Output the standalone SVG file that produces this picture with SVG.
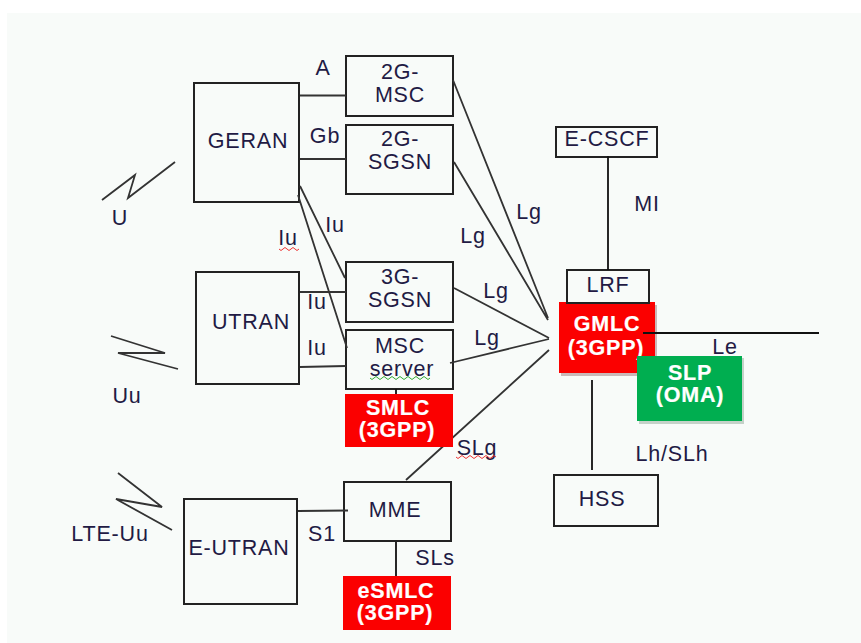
<svg xmlns="http://www.w3.org/2000/svg" width="861" height="643" viewBox="0 0 861 643">
<defs><style>
text{font-family:"Liberation Sans",Arial,sans-serif;font-size:21.500px;letter-spacing:.8px;fill:#221a44;text-anchor:middle}
.b{fill:#f8fbf9;stroke:#222;stroke-width:2}
.r{fill:#fb0000}
.g{fill:#00ae50}
.s{fill:#fff;font-weight:bold;stroke:#fff;stroke-width:.2}
.c{fill:none;stroke:#333;stroke-width:1.8}
.k{stroke:#111}
.sq{fill:none;stroke:#e33;stroke-width:1}
.sqg{fill:none;stroke:#3a3;stroke-width:1}
</style></defs>
<rect width="861" height="643" fill="#fff"/>
<rect x="7" y="13" width="854" height="630" fill="#f8fbf9"/>
<g id="GERAN"><rect class="b" x="194" y="83" width="105" height="119"/><text x="248" y="148">GERAN</text></g>
<g id="UTRAN"><rect class="b" x="196" y="272" width="103" height="112"/><text x="251" y="329">UTRAN</text></g>
<g id="E-UTRAN"><rect class="b" x="184" y="499" width="113" height="105"/><text x="239" y="555">E-UTRAN</text></g>
<g id="MSC-2G"><rect class="b" x="346" y="56" width="107" height="60"/><text x="400" y="79">2G-</text><text x="400" y="102">MSC</text></g>
<g id="SGSN-2G"><rect class="b" x="346" y="125" width="107" height="69"/><text x="400" y="146">2G-</text><text x="400" y="169">SGSN</text></g>
<g id="SGSN-3G"><rect class="b" x="346" y="262" width="107" height="60"/><text x="400" y="284">3G-</text><text x="400" y="307">SGSN</text></g>
<g id="MSC-server"><rect class="b" x="346" y="330" width="107" height="59"/><text x="400" y="353">MSC</text><text x="402" y="376">server</text><path class="sqg" d="M370 378q2 3 4 0t4 0t4 0t4 0t4 0t4 0t4 0t4 0t4 0t4 0t4 0t4 0t4 0t4 0t4 0"/></g>
<g id="GMLC"><rect x="561" y="305" width="96" height="71" fill="#c9b9b9"/><rect class="r" x="559" y="302" width="96" height="71"/><text class="s" x="607" y="331">GMLC</text><text class="s" x="606" y="355">(3GPP)</text></g>
<g id="LRF"><rect class="b" x="567" y="270" width="82" height="33"/><text x="608" y="292">LRF</text></g>
<g id="E-CSCF"><rect class="b" x="556" y="127" width="101" height="30"/><text x="607" y="146">E-CSCF</text></g>
<g id="MME"><rect class="b" x="344" y="482" width="107" height="59"/><text x="395" y="517">MME</text></g>
<g id="HSS"><rect class="b" x="554" y="475" width="104" height="51"/><text x="602" y="506">HSS</text></g>
<g id="connectors">
<path class="c" d="M300 95.500H346M300 159H346M300 292H346M300 367L346 366M298 511L348 510.500"/>
<path class="c" d="M300 186L345 278M298 195L347 348"/>
<path class="c" d="M453 80L548 318M454 162L548 320M454 288L549 338M450 363L549 339M406 480L549 350"/>
<path class="c k" d="M608 156V270M396 542V577M396 389V394M643 333H819M592 380V470"/>
<path class="c" d="M102 200L135 175L128 198L175 162"/>
<path class="c" d="M111 336L165 353L118 353L178 369"/>
<path class="c" d="M118 473L162 507L116 499L172 530"/>
</g>
<g id="SMLC"><rect class="r" x="345" y="394" width="108" height="53"/><text class="s" x="398" y="415">SMLC</text><text class="s" x="397" y="437">(3GPP)</text></g>
<g id="eSMLC"><rect class="r" x="343" y="576" width="108" height="54"/><text class="s" x="396" y="598">eSMLC</text><text class="s" x="395" y="620">(3GPP)</text></g>
<g id="SLP"><rect x="639" y="358" width="105" height="66" fill="#c5d2c9"/><rect class="g" x="637" y="356" width="105" height="65"/><text class="s" x="690" y="380">SLP</text><text class="s" x="690" y="402">(OMA)</text></g>
<g id="labels">
<text x="323" y="75">A</text>
<text x="325" y="143">Gb</text>
<text x="120" y="225">U</text>
<text x="335" y="232">Iu</text>
<text x="288" y="245">Iu</text><path class="sq" d="M279 249q2 3 4 0t4 0t4 0t4 0t4 0"/>
<text x="317" y="309">Iu</text>
<text x="317" y="355">Iu</text>
<text x="529" y="219">Lg</text>
<text x="473" y="243">Lg</text>
<text x="496" y="298">Lg</text>
<text x="487" y="345">Lg</text>
<text x="647" y="211">MI</text>
<text x="725" y="354">Le</text>
<text x="672" y="461">Lh/SLh</text>
<text x="127" y="403">Uu</text>
<text x="110" y="541">LTE-Uu</text>
<text x="322" y="541">S1</text>
<text x="477" y="455">SLg</text><path class="sq" d="M456 457q2 3 4 0t4 0t4 0t4 0t4 0t4 0t4 0t4 0t4 0t4 0"/>
<text x="435" y="565">SLs</text>
</g>
</svg>
